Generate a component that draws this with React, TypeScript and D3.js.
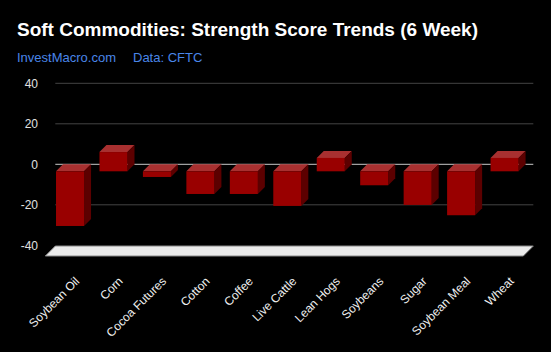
import React from "react";
import * as d3 from "d3";

const categories = ["Soybean Oil", "Corn", "Cocoa Futures", "Cotton", "Coffee", "Live Cattle", "Lean Hogs", "Soybeans", "Sugar", "Soybean Meal", "Wheat"];
const scores = [-27, 9.5, -2.8, -11.2, -11.2, -17.1, 6.6, -6.9, -16.6, -21.7, 6.6];
const yTicks = [40, 20, 0, -20, -40];

const W = 551, H = 352;
const D = 7; // bar depth
const FD = 10; // floor depth

export default function App() {
  const x = d3.scaleBand<string>().domain(categories).range([55.3, 533.3]).paddingInner(0.355).paddingOuter(0.1775);
  const y = d3.scaleLinear().domain([-40, 40]).range([245.3, 83.3]);
  const bw = x.bandwidth();
  const font = "'Liberation Sans', Arial, sans-serif";
  const y0 = y(0);
  const fb = y(-40) + 0.7;

  return (
    <svg width={W} height={H} style={{ position: "absolute", left: 0, top: 0, background: "#000" }} fontFamily={font}>
      <rect width={W} height={H} fill="#000" />
      <text x={17} y={36} fill="#fff" fontSize={19} fontWeight="bold">Soft Commodities: Strength Score Trends (6 Week)</text>
      <text x={17} y={62} fill="#4a86e8" fontSize={13}>InvestMacro.com</text>
      <text x={133} y={62} fill="#4a86e8" fontSize={13}>Data: CFTC</text>
      {yTicks.map((t) => (
        <g key={t}>
          {t !== -40 && t !== 0 && (
            <line x1={55.3} x2={533.3} y1={y(t)} y2={y(t)} stroke="#444" strokeWidth={1} />
          )}
          <text x={38} y={y(t)} dy="0.35em" textAnchor="end" fill="#e0e0e0" fontSize={12}>{t}</text>
        </g>
      ))}
      <line x1={55.3} x2={533.3} y1={y0} y2={y0} stroke="#c8c8c8" strokeWidth={1} />
      <path
        d={`M55.3,${fb} L533.3,${fb} L${533.3 - FD},${fb + FD} L${55.3 - FD},${fb + FD} Z`}
        fill="#ebebeb"
        stroke="#888"
        strokeWidth={1}
      />
      {categories.map((c, i) => {
        const v = scores[i];
        const bx = x(c)!;
        const top = Math.min(y(v), y0);
        const bot = Math.max(y(v), y0);
        const fx = bx - D;
        return (
          <g key={c}>
            <path d={`M${fx},${top + D} L${fx + bw},${top + D} L${bx + bw},${top} L${bx},${top} Z`} fill="#a83030" />
            <path d={`M${fx + bw},${top + D} L${bx + bw},${top} L${bx + bw},${bot} L${fx + bw},${bot + D} Z`} fill="#5c0000" />
            <rect x={fx} y={top + D} width={bw} height={bot - top} fill="#990000" />
          </g>
        );
      })}
      {categories.map((c) => {
        const cx = x(c)! + bw / 2 - D + 10;
        const cy = 282;
        return (
          <text key={c} transform={`translate(${cx},${cy}) rotate(-45)`} textAnchor="end" fill="#f0f0f0" fontSize={12}>{c}</text>
        );
      })}
    </svg>
  );
}
